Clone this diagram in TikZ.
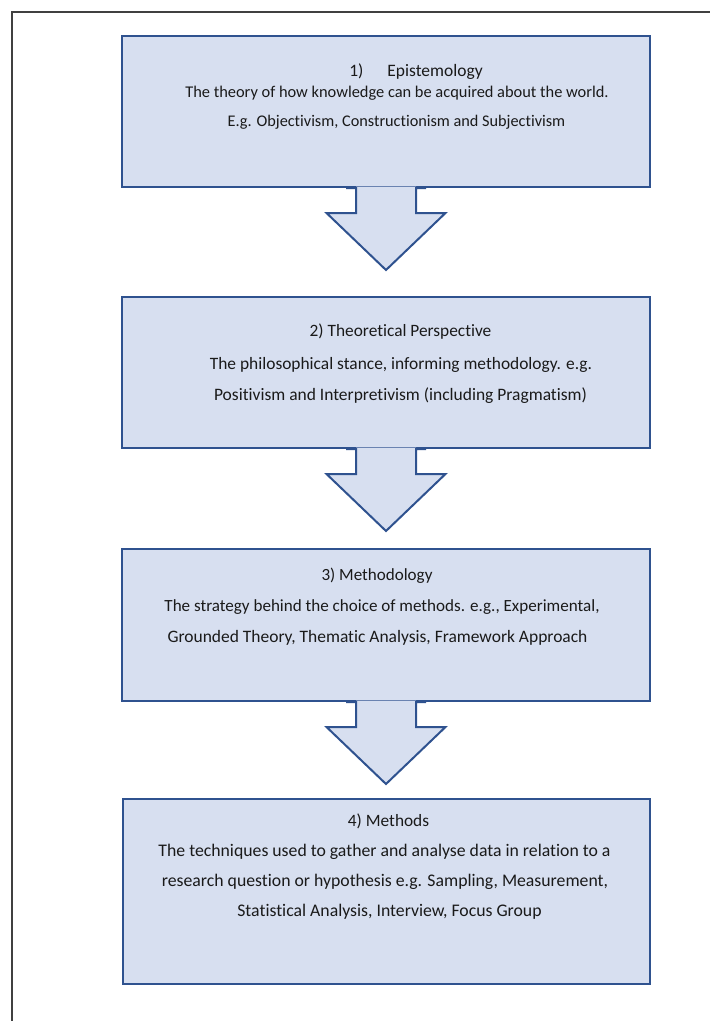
\documentclass[tikz,border=0pt]{standalone}
\usepackage{fontspec}
\setmainfont{Carlito}[Ligatures=NoCommon]
\usetikzlibrary{calc}

\definecolor{boxfill}{HTML}{D7DFF0}
\definecolor{boxedge}{HTML}{2F528F}
\definecolor{frameline}{HTML}{404040}
\definecolor{inktext}{HTML}{1A1A1A}

\begin{document}
\begin{tikzpicture}[x=0.75pt,y=-0.75pt,
  stagebox/.style={rectangle, fill=boxfill, draw=boxedge, line width=1.5pt,
    anchor=north west, inner sep=0pt},
  stagetext/.style={anchor=base, inner sep=0pt, text=inktext,
    font=\fontsize{#1pt}{16pt}\selectfont},
  stagetext/.default=13,
  downarrow/.pic={
    % body of the block arrow hanging below a box
    \fill[boxfill] (-30,-1.5) -- (-30,25) -- (-59.5,25) -- (0,82)
      -- (59.5,25) -- (30,25) -- (30,-1.5) -- cycle;
    \draw[boxedge, line width=1.5pt, line join=miter]
      (-40,0) -- (-30,0) -- (-30,25) -- (-59.5,25) -- (0,82)
      -- (59.5,25) -- (30,25) -- (30,0) -- (40,0);
  }
]
\useasboundingbox (0,0) rectangle (710,1021);

% page frame (top and left edges)
\draw[frameline, line width=1pt] (12,1021) -- (12,12) -- (710,12);

% the four stages
\node[stagebox, minimum width=396pt, minimum height=113.25pt] (b1) at (121,35) {};
\node[stagebox, minimum width=396pt, minimum height=113.25pt] (b2) at (121,296) {};
\node[stagebox, minimum width=396pt, minimum height=114pt] (b3) at (121,548) {};
\node[stagebox, minimum width=395.25pt, minimum height=138.75pt] (b4) at (122,798) {};

% block arrows leading from one stage to the next
\pic at (b1.south) {downarrow};
\pic at (b2.south) {downarrow};
\pic at (b3.south) {downarrow};

% stage 1
\node[stagetext=13.1] (t1a) at (416,76) {1)\hspace{18pt}Epistemology};
\node[stagetext=12.3] (t1b) at (397,97.5) {The theory of how knowledge can be acquired about the world.};
\node[stagetext=12.2] (t1c) at (396.5,126) {E.g. Objectivism, Constructionism and Subjectivism};

% stage 2
\node[stagetext=13.0] (t2a) at (400.5,336.5) {2) Theoretical Perspective};
\node[stagetext=13.05] (t2b) at (401,369.5) {The philosophical stance, informing methodology. e.g.};
\node[stagetext=13.1] (t2c) at (400.5,400) {Positivism and Interpretivism (including Pragmatism)};

% stage 3
\node[stagetext=12.8] (t3a) at (377,580) {3) Methodology};
\node[stagetext=12.8] (t3b) at (382,611.5) {The strategy behind the choice of methods. e.g., Experimental,};
\node[stagetext=13.1] (t3c) at (377.5,642.5) {Grounded Theory, Thematic Analysis, Framework Approach};

% stage 4
\node[stagetext=13.0] (t4a) at (388.5,826) {4) Methods};
\node[stagetext=13.3] (t4b) at (384.5,856) {The techniques used to gather and analyse data in relation to a};
\node[stagetext=13.3] (t4c) at (385,886) {research question or hypothesis e.g. Sampling, Measurement,};
\node[stagetext=13.3] (t4d) at (389.5,916.5) {Statistical Analysis, Interview, Focus Group};
\end{tikzpicture}
\end{document}
